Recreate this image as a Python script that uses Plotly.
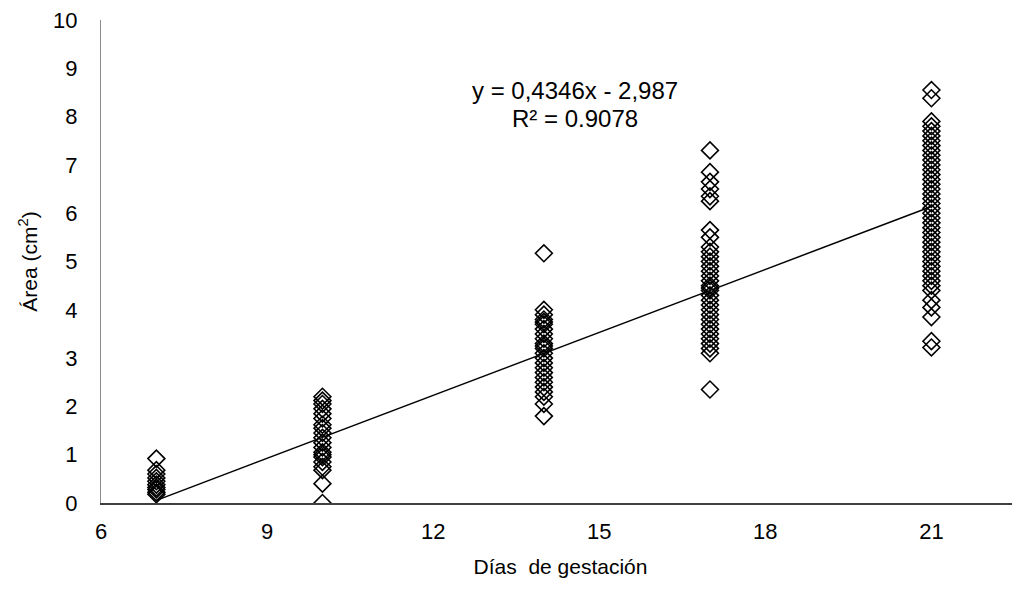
import plotly.graph_objects as go

days = [7, 10, 14, 17, 21]
area_d7 = [0.92, 0.68, 0.6, 0.52, 0.45, 0.38, 0.32, 0.28, 0.22, 0.18]
area_d10 = [0.0, 0.4, 0.68, 0.75, 0.85, 0.95, 1.0, 1.05, 1.15, 1.25, 1.35, 1.45,
            1.55, 1.62, 1.75, 1.85, 1.95, 2.05, 2.12, 2.2]
area_d14 = [5.17, 4.0, 3.9, 3.8, 3.75, 3.7, 3.6, 3.5, 3.4, 3.3, 3.25, 3.2, 3.1,
            3.0, 2.9, 2.8, 2.7, 2.6, 2.5, 2.4, 2.3, 2.2, 2.05, 1.8]
area_d17 = [7.3, 6.85, 6.65, 6.5, 6.35, 6.25, 5.65, 5.5, 5.3, 5.2, 5.1, 5.0, 4.9,
            4.8, 4.7, 4.6, 4.5, 4.45, 4.4, 4.3, 4.2, 4.1, 4.0, 3.9, 3.8, 3.7,
            3.6, 3.5, 3.4, 3.3, 3.2, 3.1, 2.35]
area_d21 = [8.55, 8.38, 7.9, 7.8, 7.7, 7.6, 7.5, 7.4, 7.3, 7.2, 7.1, 7.0, 6.9,
            6.8, 6.7, 6.6, 6.5, 6.4, 6.3, 6.2, 6.1, 6.0, 5.9, 5.8, 5.7, 5.6,
            5.5, 5.4, 5.3, 5.2, 5.1, 5.0, 4.9, 4.8, 4.7, 4.6, 4.5, 4.4, 4.2,
            4.05, 3.85, 3.35, 3.22]
areas = [area_d7, area_d10, area_d14, area_d17, area_d21]

slope = 0.4346
intercept = -2.987
eq_text = "y = 0,4346x - 2,987"
r2_text = "R² = 0.9078"

x_ticks = [6, 9, 12, 15, 18, 21]
y_ticks = list(range(0, 11))

xs, ys = [], []
for d, vals in zip(days, areas):
    xs += [d] * len(vals)
    ys += vals

font_family = "Liberation Sans, Arial, sans-serif"

fig = go.Figure()
fig.add_trace(go.Scatter(
    x=xs, y=ys, mode="markers",
    marker=dict(symbol="diamond-open", size=13, color="black",
                line=dict(width=1.6, color="black")),
    showlegend=False,
))
x0, x1 = days[0], days[-1]
fig.add_trace(go.Scatter(
    x=[x0, x1], y=[slope * x0 + intercept, slope * x1 + intercept],
    mode="lines", line=dict(color="black", width=1.5), showlegend=False,
))

fig.add_annotation(x=14.56, y=8.55, text=eq_text, showarrow=False,
                   font=dict(size=24, color="black", family=font_family),
                   xanchor="center", yanchor="middle")
fig.add_annotation(x=14.56, y=7.96, text=r2_text, showarrow=False,
                   font=dict(size=24, color="black", family=font_family),
                   xanchor="center", yanchor="middle")

fig.update_layout(
    width=1012, height=581,
    margin=dict(l=93, r=0, t=12, b=86),
    paper_bgcolor="white", plot_bgcolor="white",
    font=dict(family=font_family, size=22, color="black"),
    xaxis=dict(range=[6, 22.6], tickvals=x_ticks, showgrid=False, zeroline=False,
               showline=True, linecolor="#404040", linewidth=1.5, ticks="",
               ticklabelstandoff=8, automargin=False, ticklabeloverflow="allow",
               tickfont=dict(size=22),
               title=dict(text="Días  de gestación", standoff=16,
                          font=dict(size=21))),
    yaxis=dict(range=[0, 10], tickvals=y_ticks, showgrid=False, zeroline=False,
               showline=True, linecolor="#8c8c8c", linewidth=1, ticks="",
               ticklabelstandoff=18, automargin=False, ticklabeloverflow="allow",
               tickfont=dict(size=22),
               title=dict(text="Área (cm<sup>2</sup>)", standoff=9,
                          font=dict(size=21))),
)

fig.write_html("out.html")
